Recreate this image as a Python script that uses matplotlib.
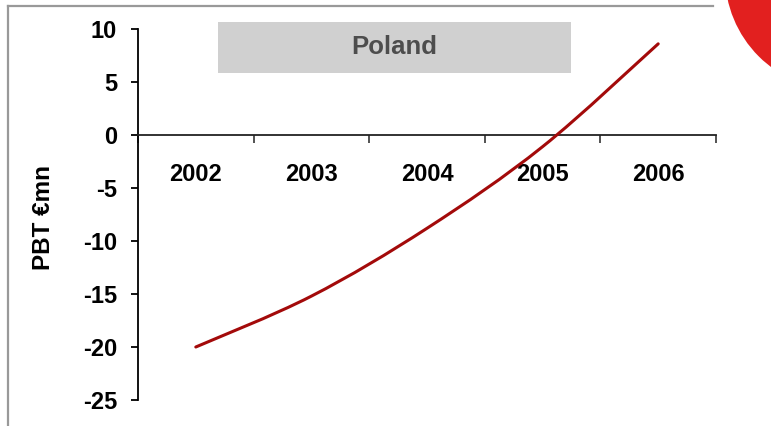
import numpy as np
import matplotlib
matplotlib.use("Agg")
import matplotlib.pyplot as plt
from matplotlib.path import Path
from matplotlib.patches import PathPatch, Rectangle, Circle
from matplotlib.transforms import IdentityTransform

plt.rcParams["font.family"] = ["Liberation Sans", "DejaVu Sans"]
plt.rcParams["font.weight"] = "bold"

# ------------------------------------------------------------
# data
# ------------------------------------------------------------
years = ["2002", "2003", "2004", "2005", "2006"]
pbt = [-20.0, -15.2, -8.8, -1.1, 8.6]
y_ticks = [10, 5, 0, -5, -10, -15, -20, -25]
title_text = "Poland"
y_label = "PBT €mn"

W, H, DPI = 771, 426, 100
fig = plt.figure(figsize=(W / DPI, H / DPI), dpi=DPI)
fig.patch.set_facecolor("white")

ax = fig.add_axes([138 / W, 1 - 400 / H, (716 - 138) / W, (400 - 29) / H])
ax.set_facecolor("none")

x = np.arange(1, len(years) + 1)
pts = np.column_stack([x, pbt])


# smoothed line (Catmull-Rom style bezier, like the spreadsheet "smooth line")
def smooth_path(p, k=1 / 6):
    verts = [tuple(p[0])]
    codes = [Path.MOVETO]
    n = len(p)
    for i in range(n - 1):
        p0 = p[i - 1] if i > 0 else p[i]
        p1 = p[i]
        p2 = p[i + 1]
        p3 = p[i + 2] if i + 2 < n else p[i + 1]
        c1 = p1 + (p2 - p0) * k
        c2 = p2 - (p3 - p1) * k
        verts += [tuple(c1), tuple(c2), tuple(p2)]
        codes += [Path.CURVE4] * 3
    return Path(verts, codes)


ax.add_patch(PathPatch(smooth_path(pts), facecolor="none", edgecolor="#a30a0a",
                       lw=2.2, capstyle="round", zorder=3))

ax.set_xlim(0.5, len(years) + 0.5)
ax.set_ylim(-25, 10)

# axes look
for side in ["top", "right"]:
    ax.spines[side].set_visible(False)
ax.spines["bottom"].set_position(("data", 0))
ax.spines["left"].set_linewidth(1.3)
ax.spines["bottom"].set_linewidth(1.3)
ax.spines["bottom"].set_color("#222222")

ax.set_yticks(y_ticks)
ax.set_yticklabels([str(v) for v in y_ticks])
ax.tick_params(axis="y", direction="out", length=5, width=1.3, pad=10,
               labelsize=17)

ax.set_xticks(x)
ax.set_xticklabels(years)
ax.set_xticks(np.arange(0.5, len(years) + 1), minor=True)
ax.tick_params(axis="x", which="major", length=0, pad=20, labelsize=17)
ax.tick_params(axis="x", which="minor", direction="out", length=6, width=1.3,
               color="#444444")

# axis title
fig.text(43 / W, 1 - 218 / H, y_label, rotation=90, ha="center", va="center",
         fontsize=17.5, fontweight="bold", color="black")

# title box
fig.add_artist(Rectangle((218 / W, 1 - 73 / H), (571 - 218) / W, 51 / H,
                         transform=fig.transFigure, facecolor="#d0d0d0",
                         edgecolor="none"))
fig.text(394.5 / W, 1 - 47.5 / H, title_text, ha="center", va="center",
         fontsize=18.5, fontweight="bold", color="#4d4d4d")

# slide frame lines
fig.add_artist(plt.Line2D([7.5 / W, 7.5 / W], [0, 1 - 6 / H],
                          transform=fig.transFigure, color="#999999", lw=1.6))
fig.add_artist(plt.Line2D([7.5 / W, 713 / W], [1 - 6 / H, 1 - 6 / H],
                          transform=fig.transFigure, color="#999999", lw=1.6))

# red ball in the corner
fig.add_artist(Circle((840, H + 25), 115, transform=IdentityTransform(),
                      facecolor="#e2201f", edgecolor="none"))

fig.savefig("out.png", dpi=DPI, facecolor="white")
